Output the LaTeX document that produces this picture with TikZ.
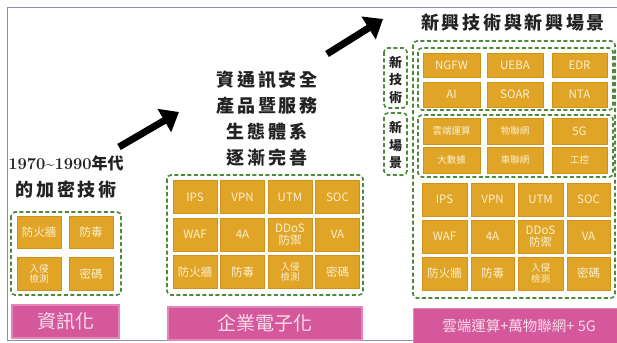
\documentclass[tikz,border=0pt]{standalone}
\usepackage{fontspec}
\newfontfamily\cjk{Noto Sans CJK TC}
\newfontfamily\cjkt[LetterSpace=15]{Noto Sans CJK TC}
\usetikzlibrary{arrows.meta}
\definecolor{cellc}{HTML}{E0A526}
\definecolor{celld}{HTML}{CF921C}
\definecolor{celltext}{HTML}{FBEFD2}
\definecolor{pinkc}{HTML}{D4589B}
\definecolor{pinkd}{HTML}{E487B8}
\definecolor{pinktext}{HTML}{F8DDEA}
\definecolor{grpc}{HTML}{4C8A3A}
\definecolor{framec}{HTML}{8C8CB8}
\definecolor{titlec}{HTML}{222222}
\tikzset{
  cell/.style={fill=cellc, draw=celld, line width=0.6pt, inner sep=0pt, align=center,
    text=celltext, font=\cjk\fontsize{11.5}{12}\selectfont},
  smallcell/.style={cell, font=\cjk\fontsize{9.5}{10.5}\selectfont},
  grp/.style={draw=grpc, line width=1.6pt, dash pattern=on 4pt off 2.5pt, rounded corners=4pt},
  pinkbox/.style={fill=pinkc, draw=pinkd, line width=1.2pt, inner sep=0pt, text=pinktext,
    font=\cjk\fontsize{19}{20}\selectfont},
  titlefont/.style={text=titlec, align=center, inner sep=0pt,
    font=\cjkt\bfseries\fontsize{18}{26}\selectfont},
  vtext/.style={text=titlec, align=center, inner sep=0pt,
    font=\cjk\bfseries\fontsize{13}{17.5}\selectfont},
  bigarrow/.style={line width=7pt, -{Triangle[length=17pt,width=26pt]}, black},
}
\newcommand{\mycell}[7][cell]{\node[#1, minimum width=#5pt, minimum height=#6pt] (#2) at (#3,#4) {#7};}
\begin{document}
\begin{tikzpicture}[x=1pt,y=-1pt]
\useasboundingbox (0,0) rectangle (617,342);
\fill[white] (0,0) rectangle (617,342);
% frame
\draw[framec, line width=1pt] (617,8) -- (7,8) -- (7,340) -- (617,340);

% ---------- left column ----------
\node[text=titlec, inner sep=0pt, font=\bfseries\fontsize{16.5}{20}\selectfont] (lt1) at (66,163)
  {1970\textasciitilde1990{\cjk\bfseries\fontsize{16}{20}\selectfont 年代}};
\node[titlefont] (lt2) at (66,190) {的加密技術};
\draw[grp] (11,212) rectangle (121,295);
\mycell{l11}{39}{232}{44}{32}{防火牆}
\mycell{l12}{91}{232}{44}{32}{防毒}
\mycell[smallcell]{l21}{39}{274}{44}{33}{入侵\\檢測}
\mycell{l22}{91}{274}{44}{33}{密碼}
\node[pinkbox, minimum width=107pt, minimum height=33pt] (lp) at (65.5,321.5) {資訊化};

% ---------- middle column ----------
\node[titlefont] (mt) at (267,119) {資通訊安全\\產品暨服務\\生態體系\\逐漸完善};
\draw[grp] (167,175) rectangle (363,295);
\mycell{m11}{195}{197}{44}{33}{IPS}
\mycell{m12}{242.5}{197}{44}{33}{VPN}
\mycell{m13}{290}{197}{44}{33}{UTM}
\mycell{m14}{337.5}{197}{44}{33}{SOC}
\mycell{m21}{195}{234.5}{44}{33}{WAF}
\mycell{m22}{242.5}{234.5}{44}{33}{4A}
\mycell{m23}{290}{234.5}{44}{33}{DDoS\\防禦}
\mycell{m24}{337.5}{234.5}{44}{33}{VA}
\mycell{m31}{195}{272}{44}{33}{防火牆}
\mycell{m32}{242.5}{272}{44}{33}{防毒}
\mycell[smallcell]{m33}{290}{272}{44}{33}{入侵\\檢測}
\mycell{m34}{337.5}{272}{44}{33}{密碼}
\node[pinkbox, minimum width=194pt, minimum height=33pt] (mp) at (265,323.5) {企業電子化};

% ---------- right column ----------
\node[titlefont] (rt) at (513,23) {新興技術與新興場景};
\draw[grp] (384,48) rectangle (407,108);
\node[vtext] (rv1) at (395.5,79.5) {新\\技\\術};
\draw[grp] (384,113) rectangle (407,175);
\node[vtext] (rv2) at (395.5,145) {新\\場\\景};
\draw[grp] (413,41) rectangle (615,298);
\draw[grp] (418,48) rectangle (613,110);
\mycell{r11}{451.5}{65}{57}{24}{NGFW}
\mycell{r12}{515}{65}{56}{24}{UEBA}
\mycell{r13}{579.5}{65}{55}{24}{EDR}
\mycell{r21}{451.5}{94.5}{57}{25}{AI}
\mycell{r22}{515}{94.5}{56}{25}{SOAR}
\mycell{r23}{579.5}{94.5}{55}{25}{NTA}
\draw[grp] (418,115) rectangle (613,177);
\mycell[smallcell]{s11}{451.5}{131}{57}{26}{雲端運算}
\mycell[smallcell]{s12}{515}{131}{56}{26}{物聯網}
\mycell{s13}{579.5}{131}{55}{26}{5G}
\mycell[smallcell]{s21}{451.5}{160}{57}{26}{大數據}
\mycell[smallcell]{s22}{515}{160}{56}{26}{車聯網}
\mycell[smallcell]{s23}{579.5}{160}{55}{26}{工控}
\mycell{b11}{444.5}{199.5}{45}{33}{IPS}
\mycell{b12}{492.5}{199.5}{43}{33}{VPN}
\mycell{b13}{540.5}{199.5}{45}{33}{UTM}
\mycell{b14}{588.5}{199.5}{43}{33}{SOC}
\mycell{b21}{444.5}{236.5}{45}{33}{WAF}
\mycell{b22}{492.5}{236.5}{43}{33}{4A}
\mycell{b23}{540.5}{236.5}{45}{33}{DDoS\\防禦}
\mycell{b24}{588.5}{236.5}{43}{33}{VA}
\mycell{b31}{444.5}{273.5}{45}{33}{防火牆}
\mycell{b32}{492.5}{273.5}{43}{33}{防毒}
\mycell[smallcell]{b33}{540.5}{273.5}{45}{33}{入侵\\檢測}
\mycell{b34}{588.5}{273.5}{43}{33}{密碼}
\node[pinkbox, minimum width=206pt, minimum height=35pt, anchor=west] (rp) at (413,326)
  {\hspace{5pt}\fontsize{14.5}{16}\selectfont 雲端運算+萬物聯網+ 5G\hspace{20pt}};

% ---------- arrows ----------
\coordinate (a1s) at (119,147);
\coordinate (a1e) at (179,112);
\draw[bigarrow] (a1s) -- (a1e);
\coordinate (a2s) at (327,54);
\coordinate (a2e) at (383,19);
\draw[bigarrow] (a2s) -- (a2e);
\end{tikzpicture}
\end{document}
